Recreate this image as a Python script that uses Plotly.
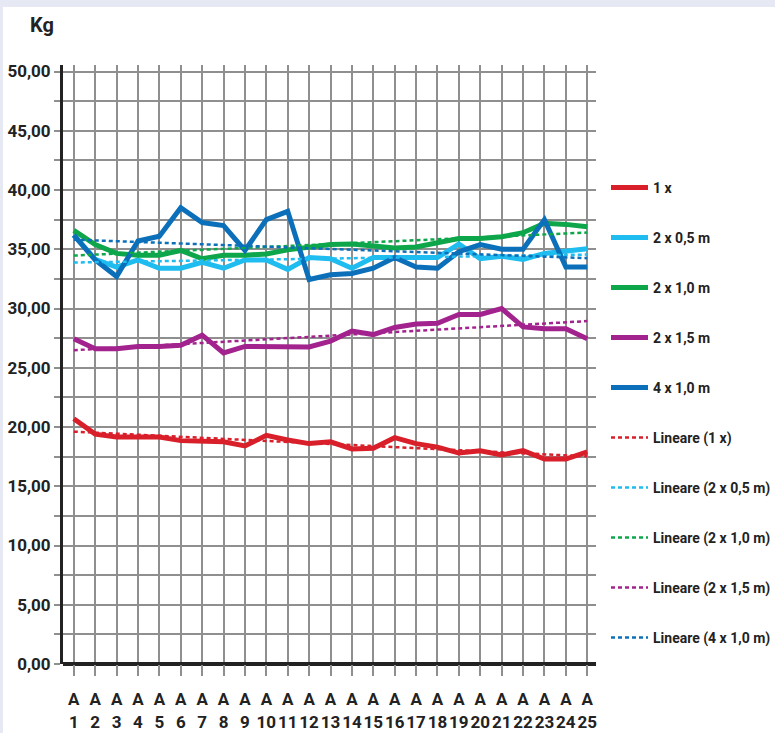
import numpy as np
import plotly.graph_objects as go

# Categories A1..A25
categories = [f"A<br>{i}" for i in range(1, 26)]
x_pos = list(range(1, 26))

# Measured weights (Kg)
s_1x = [20.7, 19.4, 19.15, 19.15, 19.15, 18.85, 18.75, 18.75, 18.4, 19.3, 18.9, 18.6, 18.75,
        18.15, 18.2, 19.1, 18.6, 18.3, 17.8, 18.0, 17.65, 18.0, 17.3, 17.3, 17.9]
s_2x05 = [36.2, 34.15, 33.5, 34.1, 33.4, 33.4, 33.9, 33.4, 34.1, 34.1, 33.3, 34.3, 34.2,
          33.4, 34.3, 34.3, 34.3, 34.3, 35.45, 34.2, 34.4, 34.15, 34.65, 34.9, 35.05]
s_2x10 = [36.6, 35.4, 34.65, 34.5, 34.5, 34.9, 34.2, 34.5, 34.5, 34.6, 34.95, 35.2, 35.4,
          35.45, 35.3, 35.1, 35.2, 35.6, 35.9, 35.9, 36.05, 36.4, 37.2, 37.1, 36.9]
s_2x15 = [27.45, 26.6, 26.6, 26.8, 26.8, 26.9, 27.75, 26.25, 26.8, 26.8, 26.7, 26.75, 27.25,
          28.1, 27.8, 28.4, 28.7, 28.75, 29.5, 29.5, 30.0, 28.45, 28.3, 28.3, 27.45]
s_4x10 = [36.2, 34.1, 32.7, 35.7, 36.1, 38.5, 37.25, 37.0, 34.9, 37.5, 38.2, 32.45, 32.85,
          32.95, 33.4, 34.3, 33.5, 33.4, 34.8, 35.4, 35.0, 35.0, 37.5, 33.5, 33.5]

names = ["1 x", "2 x 0,5 m", "2 x 1,0 m", "2 x 1,5 m", "4 x 1,0 m"]
colors = ["#d81f2a", "#1fbcf0", "#0ea64b", "#a3238e", "#0b70b9"]
series = [s_1x, s_2x05, s_2x10, s_2x15, s_4x10]

y_ticks = [0, 5, 10, 15, 20, 25, 30, 35, 40, 45, 50]

FONT = "Roboto, sans-serif"
TXT = "#222222"

W, H = 775, 733
ML, MR, MT, MB = 63, 179, 65, 69
plot_w = W - ML - MR
plot_h = H - MT - MB


def px_x(px):
    return (px - ML) / plot_w


def px_y(py):
    return (H - MB - py) / plot_h


fig = go.Figure()

for name, col, vals in zip(names, colors, series):
    fig.add_trace(go.Scatter(
        x=x_pos, y=vals, mode="lines", name=name, legendgroup=name,
        line=dict(color=col, width=5),
    ))

# Linear trend lines
for name, col, vals in zip(names, colors, series):
    slope, intercept = np.polyfit(x_pos, vals, 1)
    fit = [slope * xi + intercept for xi in x_pos]
    fig.add_trace(go.Scatter(
        x=x_pos, y=fit, mode="lines", name=f"Lineare ({name})",
        legendgroup=f"Lineare ({name})",
        line=dict(color=col, width=2.5, dash="4px,3px"),
    ))

grid_col = "#8f8f8f"

fig.update_layout(
    width=W, height=H,
    margin=dict(l=ML, r=MR, t=MT, b=MB, autoexpand=False),
    paper_bgcolor="white",
    plot_bgcolor="white",
    separators=",.",
    font=dict(family=FONT, size=16, color=TXT, weight="bold"),
    showlegend=True,
    legend=dict(
        x=px_x(606), xanchor="left", y=px_y(172), yanchor="top",
        font=dict(family=FONT, size=14, color=TXT, weight="bold"),
        tracegroupgap=28.8,
        itemwidth=37,
        bgcolor="rgba(0,0,0,0)",
    ),
    xaxis=dict(
        range=[0.495, 25.41],
        tickmode="array", tickvals=x_pos, ticktext=categories,
        tickangle=0,
        ticklabelstandoff=9,
        showgrid=True, gridcolor=grid_col, gridwidth=1.5,
        ticks="outside", ticklen=11, tickcolor=grid_col, tickwidth=1.5,
        tickfont=dict(family=FONT, size=17, color=TXT, weight="bold"),
        showline=False, zeroline=False,
    ),
    yaxis=dict(
        range=[0, 50.55],
        tickmode="array", tickvals=y_ticks,
        tickformat=".2f",
        showgrid=True, gridcolor=grid_col, gridwidth=2,
        ticks="outside", ticklen=6, tickcolor=grid_col, tickwidth=2,
        minor=dict(dtick=2.5, tick0=0, showgrid=True, gridcolor=grid_col, gridwidth=2,
                   ticks="outside", ticklen=6, tickcolor=grid_col, tickwidth=2),
        tickfont=dict(family=FONT, size=17, color=TXT, weight="bold"),
        showline=True, linecolor=TXT, linewidth=3,
        zeroline=True, zerolinecolor=TXT, zerolinewidth=3.5,
    ),
    annotations=[dict(
        text="Kg", x=px_x(42), y=px_y(25), xref="paper", yref="paper",
        xanchor="center", yanchor="middle",
        showarrow=False, font=dict(family=FONT, size=20, color=TXT, weight="bold"),
    )],
    # Light frame band along the top and left edges of the page
    shapes=[
        dict(type="rect", xref="paper", yref="paper",
             x0=px_x(0), x1=px_x(W), y0=px_y(7), y1=px_y(0),
             line=dict(width=0), fillcolor="#e6e9f3", layer="below"),
        dict(type="rect", xref="paper", yref="paper",
             x0=px_x(0), x1=px_x(3), y0=px_y(H), y1=px_y(0),
             line=dict(width=0), fillcolor="#e6e9f3", layer="below"),
    ],
)

fig.write_html("out.html")
